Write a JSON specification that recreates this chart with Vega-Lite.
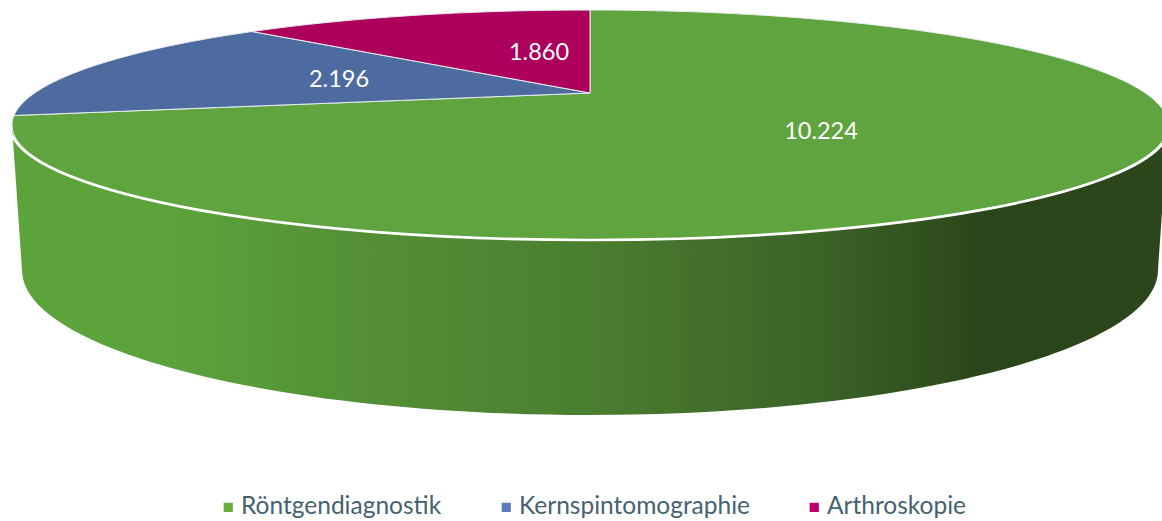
{
  "$schema": "https://vega.github.io/schema/vega-lite/v6.json",
  "width": 1162,
  "height": 521,
  "autosize": "none",
  "padding": 0,
  "background": "white",
  "config": {"view": {"stroke": null}, "font": "Lato"},
  "data": {"values": [
    {"kategorie": "Röntgendiagnostik", "anzahl": 10224, "label": "10.224"},
    {"kategorie": "Kernspintomographie", "anzahl": 2196, "label": "2.196"},
    {"kategorie": "Arthroskopie", "anzahl": 1860, "label": "1.860"}
  ]},
  "encoding": {
    "x": {"datum": 0, "type": "quantitative", "scale": {"domain": [-581, 581]}, "axis": null},
    "y": {"datum": 0, "type": "quantitative", "scale": {"domain": [260.5, -260.5], "nice": false, "zero": false}, "axis": null}
  },
  "layer": [
    {
      "mark": {"type": "square", "size": 0, "opacity": 1},
      "encoding": {
        "color": {
          "field": "kategorie", "type": "nominal",
          "scale": {"domain": ["Röntgendiagnostik", "Kernspintomographie", "Arthroskopie"], "range": ["#6aae3f", "#5a7bb8", "#be006e"]},
          "legend": {
            "orient": "none", "legendX": 216, "legendY": 495, "direction": "horizontal",
            "title": null, "symbolSize": 85, "symbolStrokeWidth": 0,
            "labelFont": "Lato", "labelFontSize": 24.5, "labelColor": "#456270", "labelOffset": 0.5,
            "columnPadding": 52, "labelLimit": 400
          }
        }
      }
    },
    {
      "transform": [{"filter": "datum.kategorie === 'Röntgendiagnostik'"}],
      "mark": {
        "type": "point", "clip": true, "filled": true, "opacity": 1, "size": 4,
        "shape": "M-569,-135.5 L-559,9.5 A568,145 0 0 0 9,154.5 A568,145 0 0 0 577,9.5 L587,-135.5 Z",
        "fill": {"x1": 0, "y1": 0, "x2": 1, "y2": 0, "gradient": "linear", "stops": [
          {"offset": 0, "color": "#5ca33b"},
          {"offset": 0.14, "color": "#5ca33b"},
          {"offset": 0.3, "color": "#548f36"},
          {"offset": 0.5, "color": "#4a7e30"},
          {"offset": 0.7, "color": "#3b6227"},
          {"offset": 0.84, "color": "#2b461a"},
          {"offset": 1, "color": "#2b461a"}
        ]}
      }
    },
    {
      "transform": [{"filter": "datum.kategorie === 'Röntgendiagnostik'"}],
      "mark": {"type": "point", "clip": true, "filled": true, "opacity": 1, "size": 4, "fill": "#5fa43f", "stroke": "#e8eef0", "strokeWidth": 1,
        "shape": "M9,-167.5 L9,-250.5 A578,115 0 0 1 587,-135.5 A578,115 0 0 1 9,-20.5 A578,115 0 0 1 -569,-135.5 A578,115 0 0 1 -567,-145 Z"}
    },
    {
      "transform": [{"filter": "datum.kategorie === 'Kernspintomographie'"}],
      "mark": {"type": "point", "clip": true, "filled": true, "opacity": 1, "size": 4, "fill": "#4d6b9f", "stroke": "#e8eef0", "strokeWidth": 1,
        "shape": "M9,-167.5 L-567,-145 A578,115 0 0 1 -329,-229 Z"}
    },
    {
      "transform": [{"filter": "datum.kategorie === 'Arthroskopie'"}],
      "mark": {"type": "point", "clip": true, "filled": true, "opacity": 1, "size": 4, "fill": "#ad005c", "stroke": "#e8eef0", "strokeWidth": 1,
        "shape": "M9,-167.5 L-329,-229 A578,115 0 0 1 9,-250.5 Z"}
    },
    {
      "transform": [{"filter": "datum.kategorie === 'Röntgendiagnostik'"}],
      "mark": {
        "type": "point", "clip": true, "filled": false, "opacity": 1, "size": 4, "stroke": "white", "strokeWidth": 2.7,
        "shape": "M-569,-125.5 A578,115 0 0 0 9,-20.5 A578,115 0 0 0 587,-125.5"
      }
    },
    {
      "transform": [{"filter": "datum.kategorie === 'Röntgendiagnostik'"}],
      "mark": {"type": "text", "fontSize": 23.5, "font": "Lato", "color": "white", "dx": 240, "dy": -128.5},
      "encoding": {"text": {"field": "label", "type": "nominal"}}
    },
    {
      "transform": [{"filter": "datum.kategorie === 'Kernspintomographie'"}],
      "mark": {"type": "text", "fontSize": 23.5, "font": "Lato", "color": "white", "dx": -242, "dy": -180.5},
      "encoding": {"text": {"field": "label", "type": "nominal"}}
    },
    {
      "transform": [{"filter": "datum.kategorie === 'Arthroskopie'"}],
      "mark": {"type": "text", "fontSize": 23.5, "font": "Lato", "color": "white", "dx": -42, "dy": -207.5},
      "encoding": {"text": {"field": "label", "type": "nominal"}}
    }
  ]
}
